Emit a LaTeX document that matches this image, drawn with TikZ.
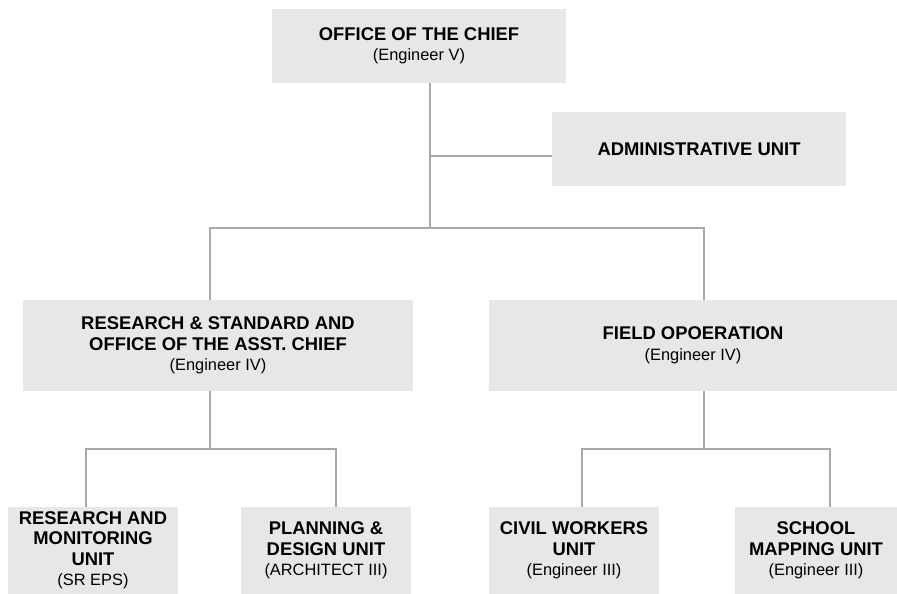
\documentclass[tikz,border=0pt]{standalone}
\usepackage{fontspec}
\setmainfont{Liberation Sans}

\begin{document}
\begin{tikzpicture}[
    unit/.style={fill=unitgray, draw=none, align=center, inner sep=0pt,
      font=\fontsize{15.7}{17.5}\selectfont\bfseries},
    link/.style={draw=linkgray, line width=1.3pt},
  ]
  \definecolor{unitgray}{HTML}{E6E7E8}
  \definecolor{linkgray}{HTML}{A7A9AC}
  \useasboundingbox (0,0) rectangle (26.91,-17.82);
  % boxes
  \node[unit, minimum width=8.82cm, minimum height=2.22cm] (chief) at (12.57,-1.38)
    {OFFICE OF THE CHIEF\\ {\mdseries\fontsize{14}{17.5}\selectfont (Engineer V)}};
  \node[unit, minimum width=8.82cm, minimum height=2.22cm] (admin) at (20.97,-4.47)
    {ADMINISTRATIVE UNIT};
  \node[unit, minimum width=11.7cm, minimum height=2.73cm] (rsd) at (6.54,-10.365)
    {RESEARCH \& STANDARD AND\\ OFFICE OF THE ASST. CHIEF\\ {\mdseries\fontsize{14}{17.5}\selectfont (Engineer IV)}};
  \node[unit, minimum width=12.24cm, minimum height=2.73cm] (field) at (20.79,-10.365)
    {FIELD OPOERATION\\ {\mdseries\fontsize{14}{17.5}\selectfont (Engineer IV)}};
  \node[unit, minimum width=5.1cm, minimum height=2.61cm] (rmu) at (2.79,-16.515)
    {RESEARCH AND\\ MONITORING\\ UNIT\\ {\mdseries\fontsize{14}{17.5}\selectfont (SR EPS)}};
  \node[unit, minimum width=5.1cm, minimum height=2.61cm] (pdu) at (9.78,-16.515)
    {PLANNING \&\\ DESIGN UNIT\\ {\mdseries\fontsize{14}{17.5}\selectfont (ARCHITECT III)}};
  \node[unit, minimum width=5.1cm, minimum height=2.61cm] (cwu) at (17.22,-16.515)
    {CIVIL WORKERS\\ UNIT\\ {\mdseries\fontsize{14}{17.5}\selectfont (Engineer III)}};
  \node[unit, minimum width=4.86cm, minimum height=2.61cm] (smu) at (24.48,-16.515)
    {SCHOOL\\ MAPPING UNIT\\ {\mdseries\fontsize{14}{17.5}\selectfont (Engineer III)}};
  % junction points
  \coordinate (ja) at (12.9,-4.68);
  \coordinate (j0) at (12.9,-6.84);
  \coordinate (t1) at (6.3,-6.84);
  \coordinate (t2) at (21.12,-6.84);
  \coordinate (j1) at (6.3,-13.47);
  \coordinate (b1) at (2.58,-13.47);
  \coordinate (b2) at (10.08,-13.47);
  \coordinate (j2) at (21.12,-13.47);
  \coordinate (b3) at (17.46,-13.47);
  \coordinate (b4) at (24.9,-13.47);
  % connectors
  \draw[link] (chief.south -| j0) -- (j0);
  \draw[link] (ja) -- (ja -| admin.west);
  \draw[link] (rsd.north -| t1) -- (t1) -- (t2) -- (field.north -| t2);
  \draw[link] (rsd.south -| j1) -- (j1);
  \draw[link] (rmu.north -| b1) -- (b1) -- (b2) -- (pdu.north -| b2);
  \draw[link] (field.south -| j2) -- (j2);
  \draw[link] (cwu.north -| b3) -- (b3) -- (b4) -- (smu.north -| b4);
\end{tikzpicture}
\end{document}
